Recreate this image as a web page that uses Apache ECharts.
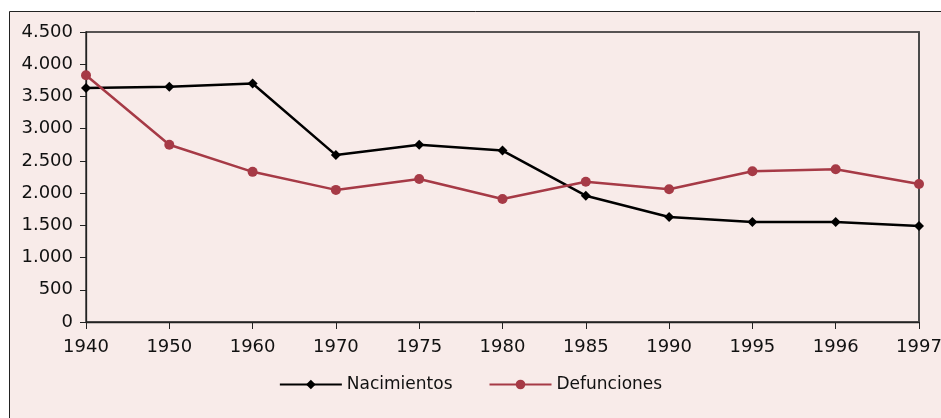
<!DOCTYPE html>
<html><head><meta charset="utf-8">
<script src="https://cdn.jsdelivr.net/npm/echarts@6/dist/echarts.min.js"></script>
<style>html,body{margin:0;padding:0;background:#fff}#c{width:941px;height:418px}</style>
</head><body><div id="c"></div>
<script>
var categories = ['1940','1950','1960','1970','1975','1980','1985','1990','1995','1996','1997'];
var nacimientos = [3630, 3650, 3700, 2590, 2750, 2660, 1960, 1630, 1550, 1550, 1490];
var defunciones = [3830, 2750, 2330, 2050, 2220, 1910, 2175, 2060, 2340, 2370, 2140];
var seriesNames = ['Nacimientos', 'Defunciones'];

var font = 'DejaVu Sans';
var chart = echarts.init(document.getElementById('c'), null, {renderer: 'canvas'});
chart.setOption({
  backgroundColor: '#ffffff',
  animation: false,
  graphic: [{
    type: 'rect', z: -10, silent: true,
    shape: {x: 9.5, y: 11.5, width: 960, height: 440},
    style: {fill: '#f8ebe9', stroke: '#222', lineWidth: 1}
  }],
  grid: {left: 86, top: 32, right: 22, bottom: 96, outerBoundsMode: 'none', containLabel: false,
    show: true, borderColor: '#222', borderWidth: 1.3, backgroundColor: 'transparent'},
  legend: {
    bottom: 20, left: 'center', itemWidth: 62, itemHeight: 12, itemGap: 36,
    textStyle: {fontFamily: font, fontSize: 17, color: '#111'},
    data: seriesNames
  },
  xAxis: {
    type: 'category', data: categories, boundaryGap: false,
    axisLine: {lineStyle: {color: '#222', width: 1.3}},
    axisTick: {alignWithLabel: true, length: 7, lineStyle: {color: '#222'}},
    axisLabel: {fontFamily: font, fontSize: 18, color: '#111', margin: 16, interval: 0},
    splitLine: {show: false}
  },
  yAxis: [{
    type: 'value', min: 0, max: 4500, interval: 500,
    axisLine: {show: true, lineStyle: {color: '#222', width: 1.3}},
    axisTick: {show: true, length: 6, lineStyle: {color: '#222'}},
    axisLabel: {fontFamily: font, fontSize: 18, color: '#111', margin: 13,
      formatter: function (v) { return String(v).replace(/\B(?=(\d{3})+(?!\d))/g, '.'); }},
    splitLine: {show: false}
  }, {
    type: 'value', position: 'right', min: 0, max: 4500, interval: 500,
    axisLine: {show: true, lineStyle: {color: '#4a4a4a', width: 2}},
    axisTick: {show: false}, axisLabel: {show: false}, splitLine: {show: false}
  }],
  series: [{
    name: seriesNames[0], type: 'line', data: nacimientos,
    symbol: 'diamond', symbolSize: 10, showAllSymbol: true,
    lineStyle: {color: '#000', width: 2.5}, itemStyle: {color: '#000'}
  }, {
    name: seriesNames[1], type: 'line', data: defunciones,
    symbol: 'circle', symbolSize: 10, showAllSymbol: true,
    lineStyle: {color: '#a63a46', width: 2.5}, itemStyle: {color: '#a63a46'}
  }]
});
</script></body></html>
